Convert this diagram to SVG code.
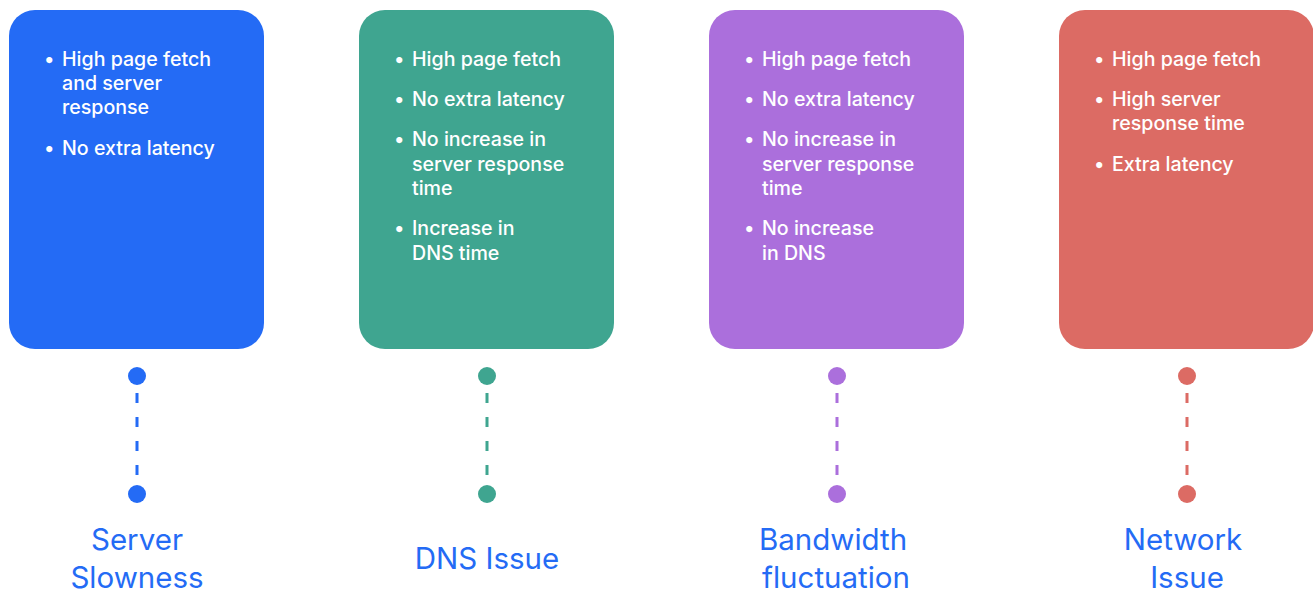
<svg xmlns="http://www.w3.org/2000/svg" width="1313" height="592" viewBox="0 0 1313 592">
<style>
.card{stroke:none}
.b{font-family:Inter,"Open Sans","Liberation Sans",sans-serif;font-size:19.6px;fill:#ffffff;font-weight:500}
.lbl{font-family:Inter,"Open Sans","Liberation Sans",sans-serif;font-size:29.5px;fill:#246bf5;text-anchor:middle}
.dash{stroke-width:3;stroke-dasharray:10 14;fill:none}
</style>
<rect width="1313" height="592" fill="#ffffff"/>
<g id="node-server">
<rect class="card" x="9" y="10" width="255" height="339" rx="26" fill="#246bf5"/>
<text class="b"><tspan x="44" y="66">•</tspan><tspan x="62" y="66">High page fetch</tspan><tspan x="62" y="90">and server</tspan><tspan x="62" y="114">response</tspan><tspan x="44" y="155">•</tspan><tspan x="62" y="155">No extra latency</tspan></text>
<text class="lbl"><tspan x="137" y="550">Server</tspan><tspan x="137" y="588">Slowness</tspan></text>
</g>
<g id="node-dns">
<rect class="card" x="359" y="10" width="255" height="339" rx="26" fill="#3fa590"/>
<text class="b"><tspan x="394" y="66">•</tspan><tspan x="412" y="66">High page fetch</tspan><tspan x="394" y="106">•</tspan><tspan x="412" y="106">No extra latency</tspan><tspan x="394" y="146">•</tspan><tspan x="412" y="146">No increase in</tspan><tspan x="412" y="171">server response</tspan><tspan x="412" y="195">time</tspan><tspan x="394" y="235">•</tspan><tspan x="412" y="235">Increase in</tspan><tspan x="412" y="260">DNS time</tspan></text>
<text class="lbl" x="487" y="569">DNS Issue</text>
</g>
<g id="node-bandwidth">
<rect class="card" x="709" y="10" width="255" height="339" rx="26" fill="#ab6fdc"/>
<text class="b"><tspan x="744" y="66">•</tspan><tspan x="762" y="66">High page fetch</tspan><tspan x="744" y="106">•</tspan><tspan x="762" y="106">No extra latency</tspan><tspan x="744" y="146">•</tspan><tspan x="762" y="146">No increase in</tspan><tspan x="762" y="171">server response</tspan><tspan x="762" y="195">time</tspan><tspan x="744" y="235">•</tspan><tspan x="762" y="235">No increase</tspan><tspan x="762" y="260">in DNS</tspan></text>
<text class="lbl"><tspan x="833" y="550">Bandwidth</tspan><tspan x="836" y="588">fluctuation</tspan></text>
</g>
<g id="node-network">
<rect class="card" x="1059" y="10" width="255" height="339" rx="26" fill="#dc6b64"/>
<text class="b"><tspan x="1094" y="66">•</tspan><tspan x="1112" y="66">High page fetch</tspan><tspan x="1094" y="106">•</tspan><tspan x="1112" y="106">High server</tspan><tspan x="1112" y="130">response time</tspan><tspan x="1094" y="171">•</tspan><tspan x="1112" y="171">Extra latency</tspan></text>
<text class="lbl"><tspan x="1183" y="550">Network</tspan><tspan x="1187" y="588">Issue</tspan></text>
</g>
<g id="connectors">
<line class="dash" x1="137" y1="393" x2="137" y2="480" stroke="#246bf5"/>
<circle cx="137" cy="376" r="9" fill="#246bf5"/><circle cx="137" cy="494" r="9" fill="#246bf5"/>
<line class="dash" x1="487" y1="393" x2="487" y2="480" stroke="#3fa590"/>
<circle cx="487" cy="376" r="9" fill="#3fa590"/><circle cx="487" cy="494" r="9" fill="#3fa590"/>
<line class="dash" x1="837" y1="393" x2="837" y2="480" stroke="#ab6fdc"/>
<circle cx="837" cy="376" r="9" fill="#ab6fdc"/><circle cx="837" cy="494" r="9" fill="#ab6fdc"/>
<line class="dash" x1="1187" y1="393" x2="1187" y2="480" stroke="#dc6b64"/>
<circle cx="1187" cy="376" r="9" fill="#dc6b64"/><circle cx="1187" cy="494" r="9" fill="#dc6b64"/>
</g>
</svg>
